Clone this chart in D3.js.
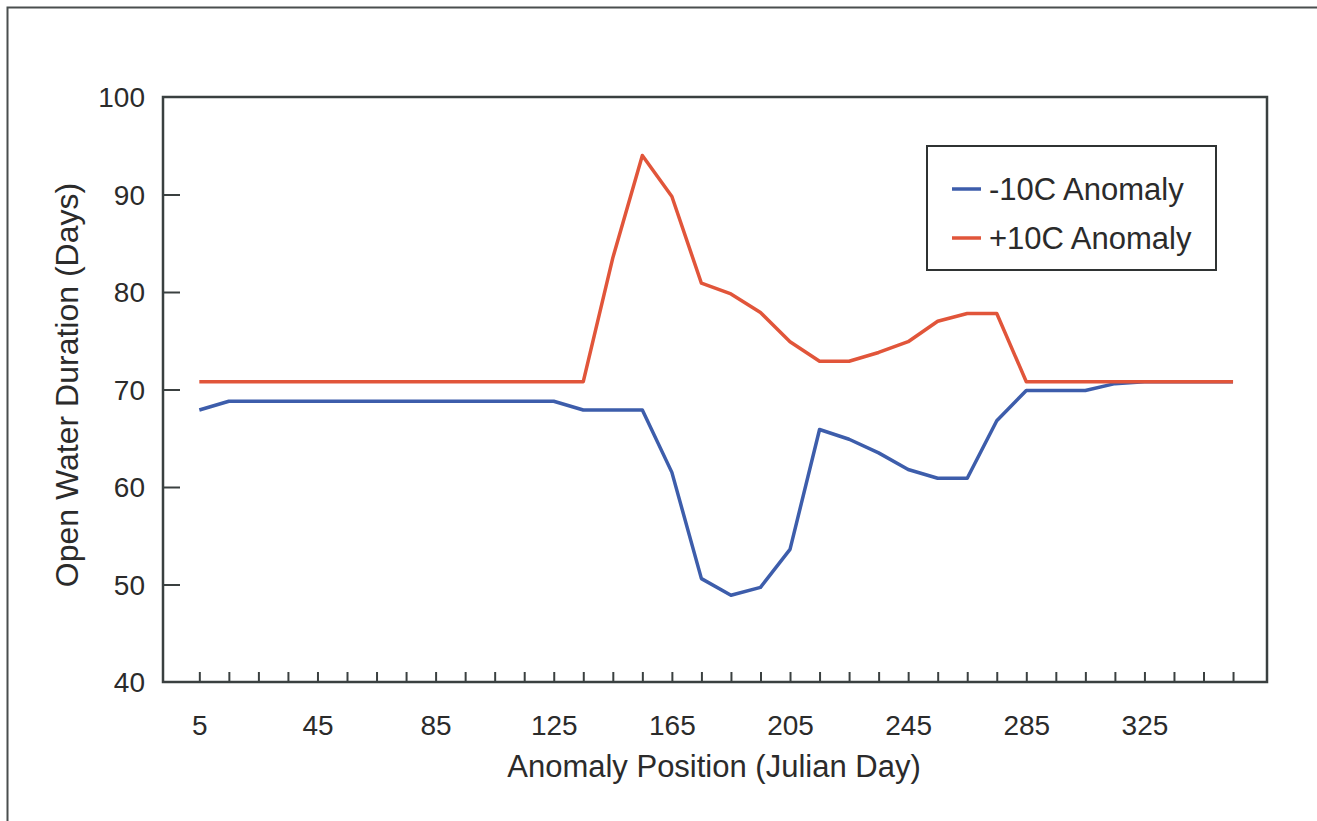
<!DOCTYPE html>
<html>
<head>
<meta charset="utf-8">
<script src="https://cdn.jsdelivr.net/npm/d3@7"></script>
<style>
  body { margin: 0; background: #fff; overflow: hidden; }
  text { font-family: "Liberation Sans", Arial, sans-serif; fill: #2b2b2b; }
</style>
</head>
<body>
<div id="chart"></div>
<script>
// anomaly position (julian day), one point every 10 days
const days = [5, 15, 25, 35, 45, 55, 65, 75, 85, 95, 105, 115, 125, 135, 145, 155, 165, 175,
  185, 195, 205, 215, 225, 235, 245, 255, 265, 275, 285, 295, 305, 315, 325, 335, 345, 355];

// open water duration (days) for each anomaly
const minus10 = [67.9, 68.8, 68.8, 68.8, 68.8, 68.8, 68.8, 68.8, 68.8, 68.8, 68.8, 68.8, 68.8, 67.9,
  67.9, 67.9, 61.5, 50.6, 48.9, 49.7, 53.6, 65.9, 64.9, 63.5, 61.8, 60.9, 60.9, 66.8,
  69.9, 69.9, 69.9, 70.6, 70.8, 70.8, 70.8, 70.8];
const plus10 = [70.8, 70.8, 70.8, 70.8, 70.8, 70.8, 70.8, 70.8, 70.8, 70.8, 70.8, 70.8, 70.8, 70.8,
  83.5, 94, 89.8, 80.9, 79.8, 77.9, 74.9, 72.9, 72.9, 73.8, 74.9, 77, 77.8, 77.8,
  70.8, 70.8, 70.8, 70.8, 70.8, 70.8, 70.8, 70.8];

const xLabels = [5, 45, 85, 125, 165, 205, 245, 285, 325];
const yTicks = [40, 50, 60, 70, 80, 90, 100];
const seriesNames = ["-10C Anomaly", "+10C Anomaly"];
const colors = ["#3d5dab", "#e1553a"];

const width = 1317;
const height = 821;
const axisColor = "#3a4040";

const svg = d3.select("#chart")
  .append("svg")
  .attr("width", width)
  .attr("height", height);

// outer frame of the figure (runs off right and bottom)
svg.append("path")
  .attr("d", `M7.5,${height + 5} V7.5 H${width + 5}`)
  .attr("fill", "none")
  .attr("stroke", "#4a4f4f")
  .attr("stroke-width", 2);

const x = d3.scaleLinear().domain([-7.3, 366.5]).range([163, 1267]);
const y = d3.scaleLinear().domain([40, 100]).range([682, 97]);

// x ticks point up into the plot
const xAxis = d3.axisBottom(x)
  .tickValues(d3.range(5, 356, 10))
  .tickSize(-10)
  .tickFormat(d => xLabels.includes(d) ? d : "");

svg.append("g")
  .attr("transform", `translate(0,${y(40)})`)
  .call(xAxis)
  .call(g => g.select(".domain").remove())
  .call(g => g.selectAll("line").attr("stroke", axisColor).attr("stroke-width", 2))
  .call(g => g.selectAll("text")
    .attr("y", 53)
    .attr("dy", 0)
    .style("font-size", "28px")
    .style("font-family", "Liberation Sans, Arial, sans-serif")
    .attr("fill", "#2b2b2b"));

const yAxis = d3.axisLeft(y)
  .tickValues(yTicks)
  .tickSize(-17)
  .tickPadding(18);

svg.append("g")
  .attr("transform", `translate(${x.range()[0]},0)`)
  .call(yAxis)
  .call(g => g.select(".domain").remove())
  .call(g => g.selectAll("line")
    .attr("stroke", axisColor).attr("stroke-width", 2)
    .attr("display", d => (d === 40 || d === 100) ? "none" : null))
  .call(g => g.selectAll("text")
    .attr("dy", "0.35em")
    .style("font-size", "28px")
    .style("font-family", "Liberation Sans, Arial, sans-serif")
    .attr("fill", "#2b2b2b"));

// plot box
svg.append("rect")
  .attr("x", x.range()[0]).attr("y", y(100))
  .attr("width", x.range()[1] - x.range()[0])
  .attr("height", y(40) - y(100))
  .attr("fill", "none")
  .attr("stroke", axisColor)
  .attr("stroke-width", 2.5);

// axis titles
svg.append("text")
  .attr("x", 714).attr("y", 777)
  .attr("text-anchor", "middle")
  .style("font-size", "31px")
  .text("Anomaly Position (Julian Day)");

svg.append("text")
  .attr("transform", "translate(78,385) rotate(-90)")
  .attr("text-anchor", "middle")
  .style("font-size", "32px")
  .text("Open Water Duration (Days)");

// lines
const line = d3.line()
  .x((d, i) => x(days[i]))
  .y(d => y(d));

[minus10, plus10].forEach((vals, i) => {
  svg.append("path")
    .datum(vals)
    .attr("d", line)
    .attr("fill", "none")
    .attr("stroke", colors[i])
    .attr("stroke-width", 3.5)
    .attr("stroke-linejoin", "round");
});

// legend
const legend = svg.append("g").attr("transform", "translate(927,146)");
legend.append("rect")
  .attr("width", 289).attr("height", 124)
  .attr("fill", "#fff")
  .attr("stroke", "#2f3333")
  .attr("stroke-width", 2);

seriesNames.forEach((name, i) => {
  const row = legend.append("g").attr("transform", `translate(0,${43 + i * 49})`);
  row.append("line")
    .attr("x1", 25).attr("x2", 54)
    .attr("stroke", colors[i])
    .attr("stroke-width", 3.5);
  row.append("text")
    .attr("x", 62).attr("dy", "0.35em")
    .style("font-size", "31px")
    .text(name);
});
</script>
</body>
</html>
